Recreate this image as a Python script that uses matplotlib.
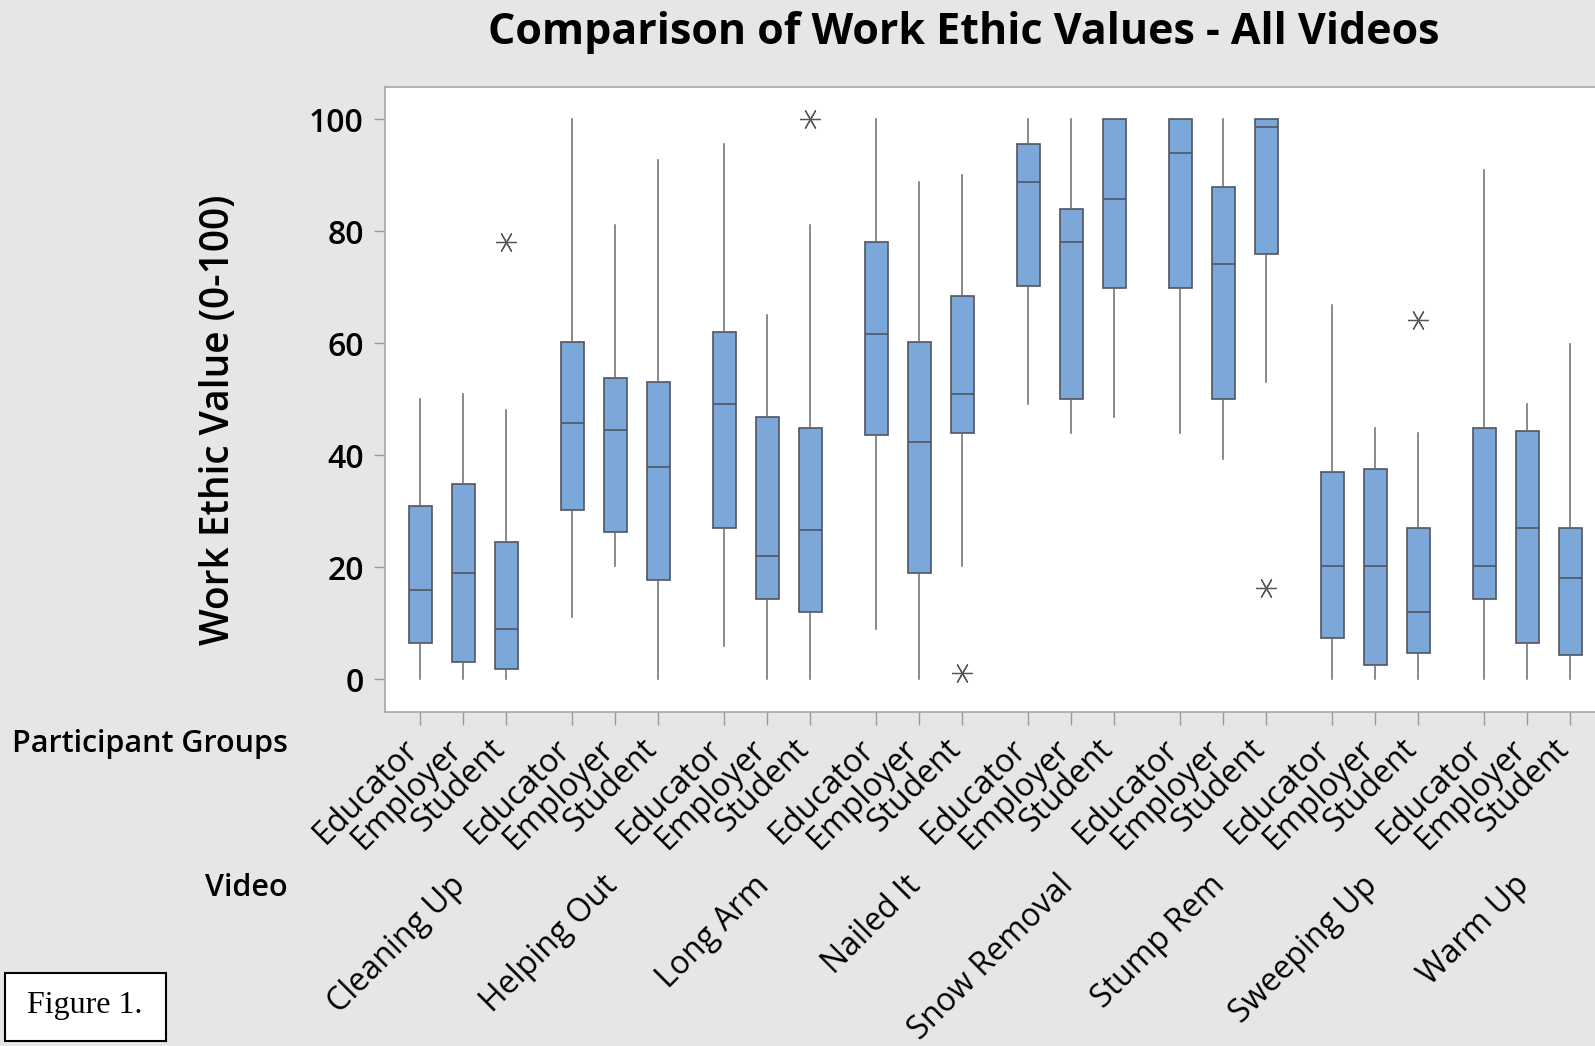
"""Box plots of work ethic ratings by video and participant group."""
import matplotlib
matplotlib.use("Agg")
import matplotlib.pyplot as plt
from matplotlib.patches import Rectangle
from matplotlib.transforms import blended_transform_factory, ScaledTranslation

plt.rcParams["font.family"] = ["Open Sans", "DejaVu Sans"]

videos = ["Cleaning Up", "Helping Out", "Long Arm", "Nailed It",
          "Snow Removal", "Stump Rem", "Sweeping Up", "Warm Up"]
groups = ["Educator", "Employer", "Student"]

# five-number summaries, one entry per (video, group), video-major order
whislo = [0, 0, 0,      11.2, 20.3, 0,     6.0, 0, 0,      9.0, 0, 20.3,
          49.1, 43.9, 46.9, 43.9, 39.3, 53.1, 0, 0, 0,     0, 0, 0]
q1 = [6.5, 3.1, 1.8,    30.2, 26.3, 17.7,  27.1, 14.3, 12.1,
      43.6, 19.0, 43.9, 70.2, 50.0, 69.8,  69.8, 50.0, 75.9,
      7.4, 2.6, 4.7,    14.3, 6.5, 4.3]
med = [16.0, 19.0, 9.0, 45.7, 44.5, 38.0,  49.1, 22.0, 26.7,
       61.7, 42.3, 50.9, 88.8, 78.1, 85.8, 94.0, 74.1, 98.6,
       20.3, 20.3, 12.1, 20.3, 27.1, 18.1]
q3 = [31.0, 34.9, 24.6, 60.3, 53.8, 53.0,  62.0, 46.9, 44.8,
      78.1, 60.3, 68.5, 95.6, 84.0, 100,   100, 87.9, 100,
      37.0, 37.5, 27.1, 44.8, 44.4, 27.1]
whishi = [50, 51, 48,   100, 81, 92.6,     95.6, 65.0, 81.0,
          100, 88.8, 90.0, 100, 100, 100,  100, 100, 100,
          66.8, 44.8, 43.9, 90.9, 49.1, 59.8]
outliers = {2: [78], 8: [100], 11: [1.2], 17: [16.3], 20: [64.2]}

GROUP_STEP = 3.53
positions = [g * GROUP_STEP + j for g in range(len(videos))
             for j in range(len(groups))]

stats = []
for i in range(len(positions)):
    stats.append(dict(whislo=whislo[i], q1=q1[i], med=med[i], q3=q3[i],
                      whishi=whishi[i], fliers=outliers.get(i, [])))

BG = "#e6e6e6"
FILL = "#7ba7d9"
EDGE = "#4f5561"

fig = plt.figure(figsize=(15.95, 10.46), dpi=100, facecolor=BG)
W, H = 1595, 1046
ax = fig.add_axes([384.5 / W, 1 - 712 / H, 1220 / W, 625.5 / H])
ax.set_facecolor("white")

ax.bxp(stats, positions=positions, widths=0.54, patch_artist=True,
       showcaps=False,
       boxprops=dict(facecolor=FILL, edgecolor=EDGE, lw=1.2),
       medianprops=dict(color=EDGE, lw=1.2),
       whiskerprops=dict(color="#6a6a6a", lw=1.1),
       flierprops=dict(marker=(6, 2, 30), markersize=15,
                       markeredgecolor="#555555", markeredgewidth=0.9,
                       linestyle="none"))

ax.set_xlim(-0.83, 27.5)
ax.set_ylim(-5.8, 105.8)
ax.set_yticks([0, 20, 40, 60, 80, 100])
ax.tick_params(axis="y", labelsize=23, length=8, width=1, color="#9a9a9a",
               pad=7)
for lab in ax.get_yticklabels():
    lab.set_fontweight("semibold")
ax.set_xticks(positions)
ax.set_xticklabels(groups * len(videos), rotation=45, ha="right",
                   va="top", rotation_mode="anchor", fontsize=23)
ax.tick_params(axis="x", length=9, width=1, color="#9a9a9a", pad=8)
# pull rotated labels back so their ends sit under the ticks
shift = ScaledTranslation(-13 / 72, 2 / 72, fig.dpi_scale_trans)
for lab in ax.get_xticklabels():
    lab.set_transform(lab.get_transform() + shift)
for side in ("left", "bottom", "top"):
    ax.spines[side].set_color("#a6a6a6")
    ax.spines[side].set_linewidth(1.2)
ax.spines["right"].set_visible(False)

# video names under the middle group of each cluster
trans = blended_transform_factory(ax.transData, ax.transAxes)
for g, name in enumerate(videos):
    ax.text(g * GROUP_STEP + 1 - 0.34, -0.251, name, transform=trans,
            rotation=45, ha="right", va="top", rotation_mode="anchor",
            fontsize=23)

fig.text(964 / W, 1 - 32 / H, "Comparison of Work Ethic Values - All Videos",
         ha="center", va="center", fontsize=31, fontweight="bold")
fig.text(219 / W, 1 - 420 / H, "Work Ethic Value (0-100)", rotation=90,
         ha="center", va="center", fontsize=28, fontweight="semibold")
fig.text(288 / W, 1 - 744 / H, "Participant Groups", ha="right",
         va="center", fontsize=22, fontweight="semibold")
fig.text(288 / W, 1 - 888 / H, "Video", ha="right", va="center",
         fontsize=22, fontweight="semibold")

fig.patches.append(Rectangle((5 / W, 1 - 1041 / H), 161 / W, 68 / H,
                             transform=fig.transFigure, facecolor="white",
                             edgecolor="black", lw=1.5))
fig.text(85 / W, 1 - 1006 / H, "Figure 1.", ha="center", va="center",
         fontsize=23, family="Liberation Serif")

fig.savefig("out.png", dpi=100, facecolor=BG)
